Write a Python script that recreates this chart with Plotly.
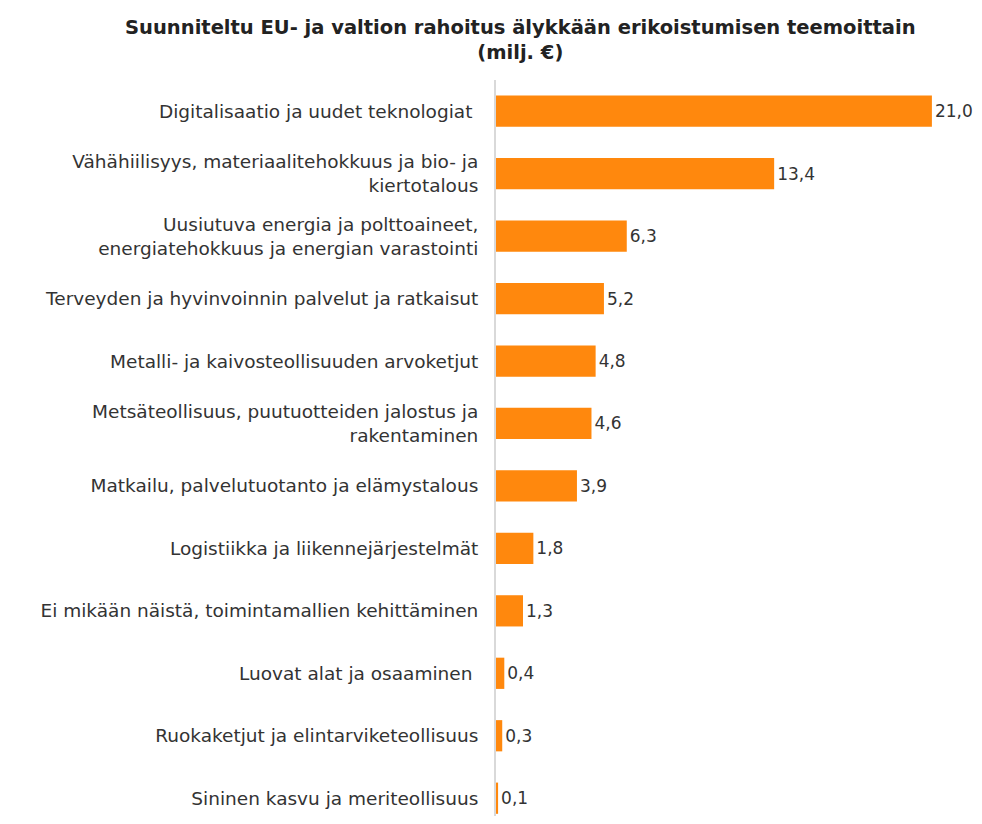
import plotly.graph_objects as go

# teemat ylhäältä alas
themes = [
    'Digitalisaatio ja uudet teknologiat ',
    'Vähähiilisyys, materiaalitehokkuus ja bio- ja<br>kiertotalous',
    'Uusiutuva energia ja polttoaineet,<br>energiatehokkuus ja energian varastointi',
    'Terveyden ja hyvinvoinnin palvelut ja ratkaisut',
    'Metalli- ja kaivosteollisuuden arvoketjut',
    'Metsäteollisuus, puutuotteiden jalostus ja<br>rakentaminen',
    'Matkailu, palvelutuotanto ja elämystalous',
    'Logistiikka ja liikennejärjestelmät',
    'Ei mikään näistä, toimintamallien kehittäminen',
    'Luovat alat ja osaaminen ',
    'Ruokaketjut ja elintarviketeollisuus',
    'Sininen kasvu ja meriteollisuus',
]
funding = [21.0, 13.4, 6.3, 5.2, 4.8, 4.6, 3.9, 1.8, 1.3, 0.4, 0.3, 0.1]

# suomalainen desimaalipilkku
labels = [f'{v:.1f}'.replace('.', ',') for v in funding]

FONT = 'DejaVu Sans'

fig = go.Figure(go.Bar(
    x=funding,
    y=themes,
    orientation='h',
    marker=dict(color='#FF880D', line=dict(width=0)),
    text=labels,
    textposition='outside',
    cliponaxis=False,
    textfont=dict(size=17, color='#333333', family=FONT),
    width=0.5,
))

# sivun body-marginaali (8px) huomioitu, ei vierityspalkkia
fig.update_layout(
    width=974, height=808,
    margin=dict(l=488, r=20, t=72, b=0),
    plot_bgcolor='white', paper_bgcolor='white',
    font=dict(family=FONT, size=18, color='#333333'),
    showlegend=False,
    title=dict(
        text='<b>Suunniteltu EU- ja valtion rahoitus älykkään erikoistumisen teemoittain<br>(milj. €)</b>',
        x=0.526, xanchor='center', y=0.968, yanchor='top',
        font=dict(size=19.5, color='#222222', family=FONT),
    ),
)

fig.update_xaxes(range=[0, 22.45], visible=False)
fig.update_yaxes(
    range=[11.285, -0.5], automargin=False,
    showline=True, linecolor='#d9d9d9', linewidth=2,
    showgrid=False, ticks='', ticklabelstandoff=12,
    tickfont=dict(size=18.5, color='#333333'),
)

fig.write_html("out.html")
